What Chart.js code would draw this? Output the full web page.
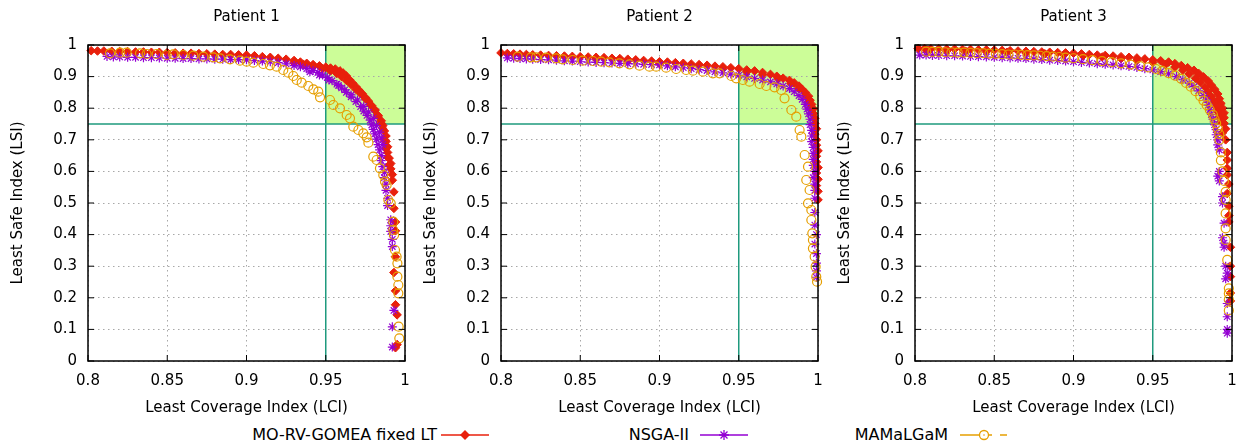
<!DOCTYPE html>
<html>
<head>
<meta charset="utf-8">
<script src="https://cdn.jsdelivr.net/npm/chart.js@4/dist/chart.umd.min.js"></script>
<style>
  body { margin: 0; background: #fff; width: 1238px; height: 447px; overflow: hidden; position: relative; font-family: "DejaVu Sans", sans-serif; }
  canvas { position: absolute; top: 0; }
  .leg-text { position: absolute; top: 425px; font-size: 16px; line-height: 20px; text-align: right; color: #000; white-space: nowrap; }
  .leg-sample { position: absolute; top: 427px; }
</style>
</head>
<body>
<canvas id="c1" width="413" height="420" style="left:0px"></canvas>
<canvas id="c2" width="413" height="420" style="left:413px"></canvas>
<canvas id="c3" width="411" height="420" style="left:827px"></canvas>

<div class="leg-text" style="left:137px;width:300px">MO-RV-GOMEA fixed LT</div>
<svg class="leg-sample" style="left:441px" width="48" height="16">
  <line x1="0" y1="8" x2="48" y2="8" stroke="#e8200c" stroke-width="1.5"/>
  <polygon points="24,3 29,8 24,13 19,8" fill="#e8200c"/>
</svg>
<div class="leg-text" style="left:489px;width:200px">NSGA-II</div>
<svg class="leg-sample" style="left:700px" width="48" height="16">
  <line x1="0" y1="8" x2="48" y2="8" stroke="#9400d3" stroke-width="1.5"/>
  <path d="M24 3 V13 M19 8 H29 M20.5 4.5 L27.5 11.5 M27.5 4.5 L20.5 11.5" stroke="#9400d3" stroke-width="1.3"/>
</svg>
<div class="leg-text" style="left:748px;width:200px">MAMaLGaM</div>
<svg class="leg-sample" style="left:960px" width="50" height="16">
  <line x1="0" y1="8" x2="32" y2="8" stroke="#e69f00" stroke-width="1.5"/>
  <line x1="40" y1="8" x2="47" y2="8" stroke="#e69f00" stroke-width="1.5"/>
  <circle cx="24" cy="8" r="4.5" fill="#fff" stroke="#e69f00" stroke-width="1.3"/>
  <circle cx="24" cy="8" r="0.8" fill="#e69f00"/>
</svg>

<script>
// 축 / 목표 영역
const xMin = 0.8, xMax = 1, xStep = 0.05;
const yMin = 0, yMax = 1, yStep = 0.1;
const lciGoal = 0.95;
const lsiGoal = 0.75;
const patientTitles = ["Patient 1", "Patient 2", "Patient 3"];
const seriesNames = ["MO-RV-GOMEA fixed LT", "NSGA-II", "MAMaLGaM"];

// Patient 1 [LCI, LSI]
const p1Gomea = [[0.802,0.982],[0.806,0.981],[0.810,0.981],[0.815,0.980],[0.820,0.979],[0.825,0.979],[0.830,0.978],[0.835,0.978],[0.840,0.977],[0.845,0.977],[0.850,0.976],[0.855,0.975],[0.860,0.974],[0.865,0.974],[0.870,0.973],[0.875,0.972],[0.880,0.971],[0.885,0.970],[0.890,0.970],[0.895,0.969],[0.900,0.968],[0.905,0.966],[0.910,0.963],[0.915,0.961],[0.920,0.958],[0.925,0.955],[0.930,0.951],[0.934,0.946],[0.938,0.942],[0.942,0.938],[0.946,0.934],[0.950,0.930],[0.953,0.927],[0.956,0.924],[0.959,0.918],[0.961,0.911],[0.963,0.902],[0.965,0.890],[0.967,0.879],[0.969,0.868],[0.971,0.857],[0.973,0.846],[0.975,0.834],[0.977,0.822],[0.979,0.808],[0.981,0.793],[0.983,0.777],[0.985,0.760],[0.986,0.745],[0.987,0.728],[0.988,0.712],[0.988,0.695],[0.989,0.678],[0.989,0.660],[0.990,0.642],[0.991,0.625],[0.991,0.608],[0.992,0.590],[0.992,0.572],[0.993,0.535],[0.993,0.483],[0.994,0.440],[0.994,0.412],[0.994,0.330],[0.993,0.280],[0.994,0.222],[0.994,0.178],[0.995,0.146],[0.995,0.052],[0.994,0.042],
    [0.930,0.944],[0.936,0.938],[0.942,0.931],[0.948,0.925],[0.953,0.918],[0.957,0.910],[0.960,0.900],[0.963,0.888],[0.966,0.875],[0.969,0.860],[0.972,0.846],[0.975,0.830],[0.978,0.812],[0.981,0.795],[0.983,0.775],[0.985,0.752],[0.986,0.735],[0.987,0.700],[0.988,0.672],[0.989,0.645],[0.990,0.620]];
const p1Nsga = [[0.812,0.964],[0.816,0.962],[0.820,0.962],[0.825,0.961],[0.830,0.961],[0.835,0.960],[0.840,0.960],[0.845,0.959],[0.850,0.958],[0.855,0.958],[0.860,0.957],[0.865,0.957],[0.870,0.956],[0.875,0.956],[0.880,0.955],[0.885,0.955],[0.890,0.954],[0.895,0.954],[0.900,0.953],[0.905,0.951],[0.910,0.949],[0.915,0.947],[0.920,0.944],[0.925,0.940],[0.930,0.935],[0.934,0.931],[0.938,0.925],[0.942,0.919],[0.945,0.913],[0.948,0.905],[0.951,0.897],[0.954,0.887],[0.957,0.876],[0.960,0.864],[0.963,0.850],[0.966,0.836],[0.969,0.821],[0.972,0.805],[0.974,0.791],[0.976,0.777],[0.978,0.762],[0.979,0.747],[0.980,0.733],[0.981,0.719],[0.982,0.702],[0.983,0.685],[0.984,0.668],[0.985,0.650],[0.985,0.634],[0.986,0.615],[0.987,0.597],[0.987,0.580],[0.988,0.560],[0.988,0.540],[0.989,0.515],[0.989,0.492],[0.991,0.447],[0.991,0.428],[0.991,0.410],[0.992,0.385],[0.992,0.362],[0.993,0.160],[0.992,0.108],[0.992,0.044],
    [0.940,0.915],[0.946,0.905],[0.952,0.889],[0.958,0.872],[0.962,0.858],[0.966,0.842],[0.970,0.826],[0.974,0.806],[0.977,0.788],[0.980,0.768],[0.982,0.745],[0.984,0.724],[0.985,0.706],[0.986,0.685]];
const p1Mama = [[0.8139,0.9736],[0.8202,0.9757],[0.8244,0.9757],[0.8328,0.9736],[0.8370,0.9715],[0.8433,0.9715],[0.8496,0.9684],[0.8538,0.9705],[0.8601,0.9684],[0.8665,0.9662],[0.8728,0.9631],[0.8791,0.9610],[0.8833,0.9578],[0.8896,0.9547],[0.8959,0.9504],[0.9001,0.9473],[0.9043,0.9441],[0.9106,0.9399],[0.9148,0.9357],[0.9190,0.9314],[0.9232,0.9209],[0.9264,0.9124],[0.9295,0.9019],[0.9317,0.8892],[0.9348,0.8808],[0.9390,0.8703],[0.9422,0.8597],[0.9453,0.8523],[0.9464,0.8344],[0.9527,0.8259],[0.9548,0.8101],[0.9590,0.7996],[0.9632,0.7785],[0.9653,0.7679],[0.9674,0.7416],[0.9706,0.7310],[0.9737,0.7205],[0.9758,0.7078],[0.9769,0.6909],[0.9800,0.6466],[0.9821,0.6361],[0.9842,0.6097],[0.9863,0.5886],[0.9874,0.5675],[0.9884,0.5570],[0.9895,0.5095],[0.9910,0.4989],[0.9926,0.4409],[0.9926,0.4146],[0.9931,0.3987],[0.9937,0.3513],[0.9947,0.3302],[0.9952,0.3091],[0.9952,0.2669],[0.9958,0.2405],[0.9958,0.2141],[0.9960,0.1087],[0.9964,0.0717]];

// Patient 2
const p2Gomea = [[0.800,0.975],[0.804,0.973],[0.808,0.972],[0.812,0.971],[0.816,0.970],[0.820,0.969],[0.825,0.968],[0.830,0.967],[0.835,0.966],[0.840,0.965],[0.845,0.964],[0.850,0.963],[0.855,0.962],[0.860,0.961],[0.865,0.960],[0.870,0.958],[0.875,0.957],[0.880,0.955],[0.885,0.953],[0.890,0.951],[0.895,0.949],[0.900,0.947],[0.905,0.946],[0.910,0.944],[0.915,0.942],[0.920,0.940],[0.925,0.938],[0.930,0.936],[0.935,0.933],[0.940,0.931],[0.945,0.928],[0.950,0.925],[0.955,0.921],[0.960,0.918],[0.965,0.913],[0.970,0.907],[0.974,0.901],[0.978,0.895],[0.982,0.888],[0.985,0.880],[0.988,0.870],[0.990,0.860],[0.992,0.850],[0.994,0.838],[0.995,0.825],[0.996,0.812],[0.997,0.798],[0.997,0.783],[0.998,0.768],[0.998,0.752],[0.999,0.735],[0.998,0.718],[0.999,0.700],[0.999,0.683],[1.000,0.665],[0.999,0.648],[0.999,0.630],[1.000,0.612],[0.999,0.595],[1.000,0.575],[0.999,0.555],[1.000,0.537],[1.000,0.510],
    [0.860,0.955],[0.880,0.949],[0.900,0.941],[0.920,0.934],[0.940,0.925],[0.955,0.915],[0.965,0.906],[0.975,0.893],[0.983,0.878],[0.988,0.862],[0.992,0.840],[0.994,0.820],[0.995,0.800]];
const p2Nsga = [[0.804,0.959],[0.808,0.958],[0.812,0.957],[0.816,0.956],[0.820,0.955],[0.825,0.954],[0.830,0.953],[0.835,0.952],[0.840,0.950],[0.845,0.949],[0.850,0.947],[0.855,0.946],[0.860,0.945],[0.865,0.944],[0.870,0.943],[0.875,0.942],[0.880,0.941],[0.885,0.940],[0.890,0.939],[0.895,0.938],[0.900,0.937],[0.905,0.934],[0.910,0.931],[0.915,0.928],[0.920,0.925],[0.925,0.922],[0.930,0.919],[0.935,0.915],[0.940,0.912],[0.945,0.908],[0.950,0.904],[0.955,0.899],[0.960,0.894],[0.965,0.889],[0.970,0.883],[0.974,0.877],[0.978,0.870],[0.982,0.862],[0.985,0.852],[0.988,0.840],[0.990,0.828],[0.992,0.812],[0.993,0.797],[0.994,0.782],[0.995,0.765],[0.995,0.748],[0.996,0.730],[0.996,0.712],[0.996,0.694],[0.997,0.676],[0.997,0.657],[0.997,0.638],[0.997,0.619],[0.998,0.600],[0.997,0.580],[0.998,0.560],[0.998,0.540],[0.998,0.515],[0.998,0.470],[0.998,0.430],[0.999,0.400],[0.998,0.370],[0.999,0.340],[0.999,0.310],[0.999,0.285],[0.999,0.265]];
const p2Mama = [[0.8105,0.9631],[0.8189,0.9610],[0.8221,0.9610],[0.8284,0.9599],[0.8347,0.9578],[0.8389,0.9546],[0.8453,0.9525],[0.8516,0.9504],[0.8579,0.9494],[0.8632,0.9473],[0.8684,0.9451],[0.8747,0.9420],[0.8811,0.9388],[0.8874,0.9346],[0.8937,0.9314],[0.8979,0.9314],[0.9042,0.9283],[0.9105,0.9241],[0.9168,0.9209],[0.9211,0.9188],[0.9274,0.9156],[0.9337,0.9103],[0.9379,0.9103],[0.9453,0.9019],[0.9484,0.8945],[0.9526,0.8892],[0.9568,0.8840],[0.9632,0.8766],[0.9674,0.8703],[0.9726,0.8660],[0.9768,0.8576],[0.9789,0.8312],[0.9832,0.7943],[0.9863,0.7732],[0.9884,0.7310],[0.9895,0.7099],[0.9916,0.6519],[0.9937,0.6150],[0.9926,0.5728],[0.9947,0.5411],[0.9937,0.4989],[0.9958,0.4778],[0.9958,0.4462],[0.9964,0.4040],[0.9968,0.3829],[0.9968,0.3565],[0.9979,0.3302],[0.9985,0.2985],[0.9989,0.2669],[0.9994,0.2511]];

// Patient 3
const p3Gomea = [[0.802,0.989],[0.806,0.989],[0.810,0.988],[0.815,0.988],[0.820,0.987],[0.825,0.987],[0.830,0.986],[0.835,0.986],[0.840,0.985],[0.845,0.985],[0.850,0.984],[0.855,0.983],[0.860,0.982],[0.865,0.981],[0.870,0.980],[0.875,0.979],[0.880,0.978],[0.885,0.977],[0.890,0.976],[0.895,0.975],[0.900,0.974],[0.905,0.972],[0.910,0.970],[0.915,0.968],[0.920,0.967],[0.925,0.965],[0.930,0.963],[0.935,0.961],[0.940,0.959],[0.945,0.956],[0.950,0.953],[0.955,0.950],[0.960,0.946],[0.964,0.941],[0.968,0.935],[0.972,0.928],[0.976,0.920],[0.979,0.910],[0.982,0.899],[0.985,0.886],[0.987,0.873],[0.989,0.860],[0.991,0.845],[0.992,0.830],[0.993,0.815],[0.994,0.800],[0.995,0.785],[0.995,0.770],[0.995,0.752],[0.996,0.735],[0.994,0.722],[0.996,0.700],[0.997,0.660],[0.997,0.636],[0.997,0.610],[0.997,0.589],[0.998,0.560],[0.997,0.530],[0.998,0.490],[0.998,0.460],[0.998,0.440],[0.999,0.360],[0.999,0.300],[0.999,0.267],[0.999,0.215],[0.999,0.190],
    [0.808,0.983],[0.820,0.981],[0.832,0.980],[0.845,0.979],[0.858,0.977],[0.870,0.975],[0.882,0.972],[0.894,0.969],[0.906,0.966],[0.918,0.962],[0.930,0.957],[0.940,0.951],[0.950,0.945],[0.958,0.938],[0.964,0.930],[0.969,0.920],[0.973,0.908],[0.977,0.895],[0.980,0.882],[0.983,0.867],[0.985,0.852],[0.987,0.836],[0.989,0.820],[0.990,0.804],[0.991,0.789],[0.992,0.773],[0.993,0.757]];
const p3Nsga = [[0.803,0.968],[0.807,0.968],[0.811,0.967],[0.815,0.967],[0.820,0.966],[0.825,0.966],[0.830,0.965],[0.835,0.964],[0.840,0.963],[0.845,0.962],[0.850,0.961],[0.855,0.960],[0.860,0.959],[0.865,0.958],[0.870,0.957],[0.875,0.955],[0.880,0.954],[0.885,0.952],[0.890,0.951],[0.895,0.949],[0.900,0.947],[0.905,0.945],[0.910,0.943],[0.915,0.941],[0.920,0.939],[0.925,0.937],[0.930,0.934],[0.935,0.932],[0.940,0.929],[0.945,0.925],[0.950,0.921],[0.955,0.916],[0.960,0.909],[0.965,0.900],[0.969,0.890],[0.973,0.879],[0.976,0.868],[0.979,0.855],[0.982,0.840],[0.984,0.826],[0.985,0.810],[0.986,0.795],[0.987,0.780],[0.988,0.765],[0.989,0.748],[0.990,0.732],[0.990,0.716],[0.991,0.700],[0.991,0.684],[0.992,0.668],[0.992,0.600],[0.991,0.585],[0.992,0.570],[0.994,0.520],[0.994,0.500],[0.995,0.436],[0.994,0.390],[0.995,0.373],[0.995,0.360],[0.996,0.300],[0.997,0.278],[0.996,0.260],[0.997,0.182],[0.997,0.140],[0.997,0.100],[0.997,0.088]];
const p3Mama = [[0.807,0.979],[0.811,0.978],[0.815,0.978],[0.819,0.977],[0.823,0.977],[0.827,0.976],[0.831,0.976],[0.835,0.975],[0.839,0.974],[0.843,0.974],[0.847,0.973],[0.851,0.972],[0.855,0.971],[0.859,0.970],[0.863,0.970],[0.867,0.969],[0.871,0.968],[0.875,0.967],[0.879,0.966],[0.883,0.965],[0.887,0.963],[0.891,0.962],[0.895,0.960],[0.900,0.958],[0.906,0.955],[0.912,0.952],[0.918,0.949],[0.924,0.946],[0.930,0.942],[0.936,0.938],[0.942,0.933],[0.947,0.929],[0.952,0.924],[0.956,0.918],[0.960,0.911],[0.964,0.903],[0.968,0.893],[0.971,0.880],[0.974,0.868],[0.977,0.854],[0.980,0.838],[0.982,0.824],[0.984,0.810],[0.986,0.795],[0.988,0.779],[0.989,0.765],[0.990,0.752],[0.991,0.735],[0.992,0.718],[0.992,0.700],[0.993,0.660],[0.993,0.635],[0.994,0.600],[0.995,0.570],[0.996,0.535],[0.996,0.510],[0.996,0.467],[0.996,0.420],[0.996,0.383],[0.997,0.320],[0.998,0.230],[0.998,0.214],[0.998,0.195],[0.998,0.160]];

const FONT = "'DejaVu Sans', sans-serif";

// 목표 영역 + 테두리 + 안쪽 눈금
const goalPlugin = {
    id: 'goal',
    beforeDraw(chart) {
        const { ctx, scales: { x, y } } = chart;
        ctx.save();
        ctx.fillStyle = '#ccfd98';
        const gx = x.getPixelForValue(lciGoal), gy = y.getPixelForValue(lsiGoal);
        const top = y.getPixelForValue(yMax);
        ctx.fillRect(gx, top, x.getPixelForValue(xMax) - gx, gy - top);
        ctx.restore();
    },
    beforeDatasetsDraw(chart) {
        const { ctx, chartArea: a, scales: { x, y } } = chart;
        ctx.save();
        ctx.strokeStyle = '#1f9a7e';
        ctx.lineWidth = 1.5;
        const gx = x.getPixelForValue(lciGoal), gy = y.getPixelForValue(lsiGoal);
        ctx.beginPath();
        ctx.moveTo(gx, a.top); ctx.lineTo(gx, a.bottom);
        ctx.moveTo(a.left, gy); ctx.lineTo(a.right, gy);
        ctx.stroke();
        ctx.restore();
    },
    afterDatasetsDraw(chart) {
        const { ctx, chartArea: a, scales: { x, y } } = chart;
        ctx.save();
        ctx.strokeStyle = '#000';
        ctx.lineWidth = 1;
        ctx.beginPath();
        x.ticks.forEach(t => {
            const px = x.getPixelForValue(t.value);
            ctx.moveTo(px, a.bottom); ctx.lineTo(px, a.bottom - 6);
            ctx.moveTo(px, a.top); ctx.lineTo(px, a.top + 6);
        });
        y.ticks.forEach(t => {
            const py = y.getPixelForValue(t.value);
            ctx.moveTo(a.left, py); ctx.lineTo(a.left + 6, py);
            ctx.moveTo(a.right, py); ctx.lineTo(a.right - 6, py);
        });
        ctx.stroke();
        ctx.lineWidth = 1.5;
        ctx.strokeRect(a.left, a.top, a.right - a.left, a.bottom - a.top);
        ctx.restore();
    }
};

function fmt(v) {
    return String(Number(v.toFixed(2)));
}

function makeChart(id, title, gomea, nsga, mama, padRight) {
    return new Chart(document.getElementById(id), {
        type: 'scatter',
        data: {
            datasets: [
                {
                    label: seriesNames[0], data: gomea, order: 3,
                    pointStyle: 'rectRot', pointRadius: 4.3,
                    backgroundColor: '#e8200c', borderColor: '#e8200c', borderWidth: 1
                },
                {
                    label: seriesNames[1], data: nsga, order: 2,
                    pointStyle: 'star', pointRadius: 4.5,
                    backgroundColor: '#9400d3', borderColor: '#9400d3', borderWidth: 1.2
                },
                {
                    label: seriesNames[2], data: mama, order: 1,
                    pointStyle: 'circle', pointRadius: 4.5,
                    backgroundColor: 'rgba(0,0,0,0)', borderColor: '#e69f00', borderWidth: 1.2
                }
            ]
        },
        plugins: [goalPlugin],
        options: {
            responsive: false,
            animation: false,
            events: [],
            clip: false,
            layout: { padding: { right: padRight, top: 0, bottom: 0, left: 0 } },
            scales: {
                x: {
                    type: 'linear', min: xMin, max: xMax,
                    afterFit: s => { s.height = 59; },
                    border: { display: false, dash: [1.5, 3.5] },
                    grid: { color: '#a8a8a8', lineWidth: 1, drawTicks: true, tickLength: 11, tickColor: 'rgba(0,0,0,0)' },
                    ticks: { stepSize: xStep, padding: 0, color: '#000', maxRotation: 0, autoSkip: false,
                             font: { family: FONT, size: 15 }, callback: fmt },
                    title: { display: true, text: 'Least Coverage Index (LCI)', color: '#000',
                             font: { family: FONT, size: 15 }, padding: { top: 0, bottom: 3 } }
                },
                y: {
                    type: 'linear', min: yMin, max: yMax,
                    afterFit: s => { s.width = 88; },
                    border: { display: false, dash: [1.5, 3.5] },
                    grid: { color: '#a8a8a8', lineWidth: 1, drawTicks: false },
                    ticks: { stepSize: yStep, padding: 11, color: '#000', autoSkip: false,
                             font: { family: FONT, size: 15 }, callback: fmt },
                    title: { display: true, text: 'Least Safe Index (LSI)', color: '#000',
                             font: { family: FONT, size: 15 }, padding: { top: 9, bottom: 0 } }
                }
            },
            plugins: {
                legend: { display: false },
                tooltip: { enabled: false },
                title: {
                    display: true, text: title, color: '#000', fullSize: false,
                    font: { family: FONT, size: 15, weight: 'normal' },
                    padding: { top: 8, bottom: 19 }
                }
            }
        }
    });
}

makeChart('c1', patientTitles[0], p1Gomea, p1Nsga, p1Mama, 8);
makeChart('c2', patientTitles[1], p2Gomea, p2Nsga, p2Mama, 8);
makeChart('c3', patientTitles[2], p3Gomea, p3Nsga, p3Mama, 6);
</script>
</body>
</html>
